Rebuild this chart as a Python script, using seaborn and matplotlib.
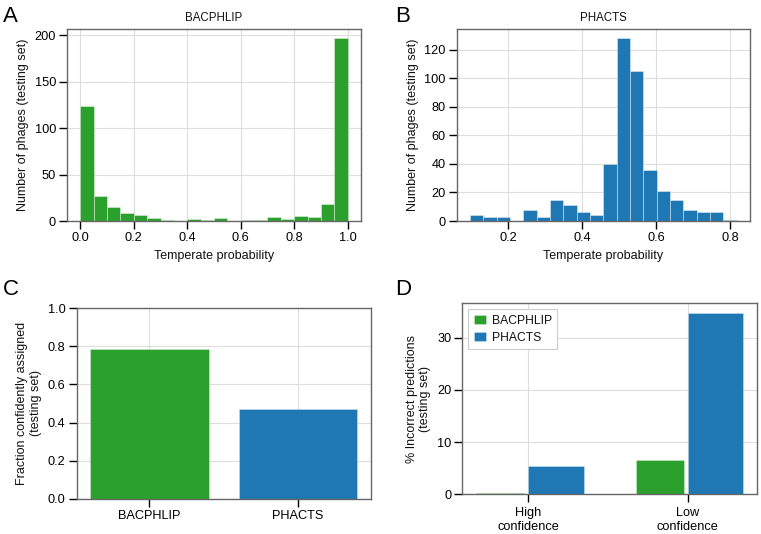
import numpy as np
import pandas as pd
import matplotlib
matplotlib.use("Agg")
import matplotlib.pyplot as plt
import seaborn as sns

# ---------------- data ----------------
bac_edges = np.linspace(0.0, 1.0, 21)
bac_counts = [124, 27, 15, 9, 6, 3, 1, 0, 2, 1, 3, 0, 1, 1, 4, 2, 5, 4, 18, 197]
pha_edges = np.linspace(0.0965, 0.818, 21)
pha_counts = [4, 3, 3, 0, 8, 3, 15, 11, 6, 4, 40, 128, 105, 36, 21, 15, 8, 6, 6, 1]

tools = ["BACPHLIP", "PHACTS"]
fraction_confident = [0.788, 0.470]

conf_levels = ["High\nconfidence", "Low\nconfidence"]
incorrect_bac = [0.3, 6.65]
incorrect_pha = [5.5, 34.8]

GREEN = "#2ca02c"
BLUE = "#1f77b4"

# ---------------- style ----------------
sns.set_theme(style="whitegrid", rc={
    "axes.edgecolor": "#666666",
    "axes.linewidth": 1.0,
    "grid.color": "#dddddd",
    "grid.linewidth": 0.8,
    "xtick.bottom": True,
    "ytick.left": True,
    "xtick.major.size": 5.5,
    "ytick.major.size": 5.5,
    "xtick.major.width": 1.0,
    "ytick.major.width": 1.0,
    "xtick.major.pad": 2.5,
    "ytick.major.pad": 2.5,
    "xtick.color": "black",
    "ytick.color": "black",
    "text.color": "#111111",
    "axes.labelcolor": "#111111",
    "font.size": 9,
    "axes.labelsize": 9,
    "axes.titlesize": 8.3,
    "xtick.labelsize": 9.2,
    "ytick.labelsize": 9.2,
    "legend.fontsize": 8.7,
})
plt.rcParams["font.family"] = ["Liberation Sans", "DejaVu Sans"]

fig = plt.figure(figsize=(7.61, 5.34), dpi=100)
W, H = 761, 534


def add_ax(l, r, t, b):
    return fig.add_axes([l / W, 1 - b / H, (r - l) / W, (b - t) / H])


axA = add_ax(67, 361, 29, 221)
axB = add_ax(456.7, 750, 29, 221)
axC = add_ax(76.7, 370.7, 308.3, 498.7)
axD = add_ax(462.3, 756.7, 303.3, 494.3)

edge_kw = dict(edgecolor=(1, 1, 1, 0.45), linewidth=0.6)

# ---------------- A ----------------
dfA = pd.DataFrame({"p": (bac_edges[:-1] + bac_edges[1:]) / 2, "n": bac_counts})
sns.histplot(data=dfA, x="p", weights="n", bins=list(bac_edges), ax=axA,
             color=GREEN, alpha=1, **edge_kw)
axA.set_title("BACPHLIP")
axA.set_xlabel("Temperate probability")
axA.set_ylabel("Number of phages (testing set)")
axA.set_xticks([0.0, 0.2, 0.4, 0.6, 0.8, 1.0])
axA.set_yticks([0, 50, 100, 150, 200])
axA.set_xlim(-0.05, 1.05)

# ---------------- B ----------------
dfB = pd.DataFrame({"p": (pha_edges[:-1] + pha_edges[1:]) / 2, "n": pha_counts})
sns.histplot(data=dfB, x="p", weights="n", bins=list(pha_edges), ax=axB,
             color=BLUE, alpha=1, **edge_kw)
axB.set_title("PHACTS")
axB.set_xlabel("Temperate probability")
axB.set_ylabel("Number of phages (testing set)")
axB.set_xticks([0.2, 0.4, 0.6, 0.8])
axB.set_yticks([0, 20, 40, 60, 80, 100, 120])

# ---------------- C ----------------
dfC = pd.DataFrame({"Tool": tools, "Fraction": fraction_confident})
sns.barplot(data=dfC, x="Tool", y="Fraction", hue="Tool",
            palette=[GREEN, BLUE], legend=False, width=0.8, ax=axC,
            saturation=1, edgecolor=(1, 1, 1, 0.35), linewidth=0.6)
axC.set_xlabel("")
axC.set_ylabel("Fraction confidently assigned\n(testing set)")
axC.set_ylim(0, 1.0)
axC.set_yticks([0.0, 0.2, 0.4, 0.6, 0.8, 1.0])
axC.yaxis.set_major_formatter(matplotlib.ticker.FormatStrFormatter("%.1f"))
axC.set_xlim(-0.49, 1.49)

# ---------------- D ----------------
dfD = pd.DataFrame({
    "Confidence": conf_levels * 2,
    "Tool": ["BACPHLIP"] * 2 + ["PHACTS"] * 2,
    "Value": incorrect_bac + incorrect_pha,
})
sns.barplot(data=dfD, x="Confidence", y="Value", hue="Tool",
            palette=[GREEN, BLUE], width=0.7, errorbar=None, ax=axD,
            saturation=1, edgecolor=(1, 1, 1, 0.35), linewidth=0.6)
# BACPHLIP bars are slightly narrower than PHACTS bars
for p in axD.containers[0]:
    c = p.get_x() + p.get_width() / 2
    w = p.get_width() * 0.86
    p.set_width(w)
    p.set_x(c - w / 2)
axD.set_xlabel("")
axD.set_ylabel("% Incorrect predictions\n(testing set)")
axD.set_yticks([0, 10, 20, 30])
axD.set_ylim(0, 36.6)
axD.set_xlim(-0.414, 1.434)
axD.tick_params(axis="x", pad=4)
sns.move_legend(axD, "upper left", title=None, frameon=True, fancybox=False,
                edgecolor="#cccccc", framealpha=1, handlelength=1.05,
                handleheight=0.85, borderpad=0.45, labelspacing=0.4,
                handletextpad=0.45, fontsize=8.7)
axD.get_legend().get_frame().set_linewidth(0.8)

for ax in (axA, axB, axC, axD):
    ax.set_axisbelow(True)
    ax.grid(True, which="major", color="#dddddd", linewidth=0.8)
    for s in ax.spines.values():
        s.set_visible(True)
        s.set_color("#666666")
        s.set_linewidth(1.0)

# panel letters
for letter, x, y in [("A", 3, 22), ("B", 395, 22), ("C", 3, 295), ("D", 395, 295)]:
    fig.text(x / W, 1 - y / H, letter, fontsize=16, va="baseline", ha="left",
             color="black")

fig.savefig("out.png", dpi=100)
